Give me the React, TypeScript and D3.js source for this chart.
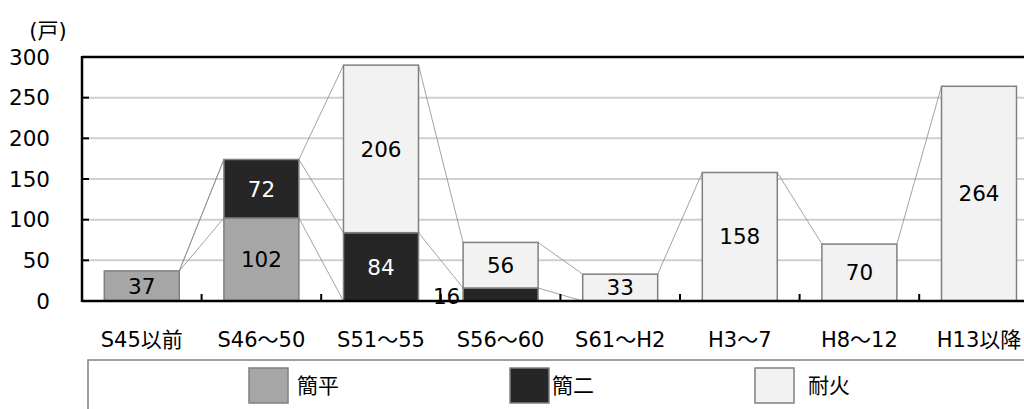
import { useEffect, useRef } from "react";
import * as d3 from "d3";

// Données
const categories = ["S45以前", "S46～50", "S51～55", "S56～60", "S61～H2", "H3～7", "H8～12", "H13以降"];
const kanpei = [37, 102, 0, 0, 0, 0, 0, 0];
const kanni = [0, 72, 84, 16, 0, 0, 0, 0];
const taika = [0, 0, 206, 56, 33, 158, 70, 264];
const seriesNames = ["簡平", "簡二", "耐火"];
const yTicks = [0, 50, 100, 150, 200, 250, 300];

const FONT = "'DejaVu Sans', 'Noto Sans CJK JP', sans-serif";
const colors = ["#a6a6a6", "#262626", "#f2f2f2"];
const textColors = ["#000", "#fff", "#000"];

export default function App() {
  const svgRef = useRef<SVGSVGElement>(null);

  useEffect(() => {
    if (!svgRef.current) return;
    const svg = d3.select(svgRef.current);
    svg.selectAll("*").remove();

    const width = 1024;
    const height = 409;
    const left = 82;
    const top = 57;
    const bottom = 301;
    const step = 119.6;

    svg.attr("width", width).attr("height", height);

    const x = d3
      .scaleBand<string>()
      .domain(categories)
      .range([left, left + step * categories.length])
      .paddingInner(0.373)
      .paddingOuter(0.1865);

    const y = d3.scaleLinear().domain([0, 300]).range([bottom, top]);

    const rows = categories.map((c, i) => ({
      cat: c,
      簡平: kanpei[i],
      簡二: kanni[i],
      耐火: taika[i]
    }));
    const stack = d3.stack<any>().keys(seriesNames)(rows);

    // Grille
    svg
      .append("g")
      .selectAll("line")
      .data(yTicks.filter((t) => t > 0 && t < 300))
      .enter()
      .append("line")
      .attr("x1", left)
      .attr("x2", width)
      .attr("y1", (d) => y(d))
      .attr("y2", (d) => y(d))
      .attr("stroke", "#cfcfcf")
      .attr("stroke-width", 2);

    // Lignes de série
    const bw = x.bandwidth();
    stack.forEach((s) => {
      for (let i = 0; i < s.length - 1; i++) {
        const x1 = (x(categories[i]) as number) + bw;
        const x2 = x(categories[i + 1]) as number;
        svg
          .append("line")
          .attr("x1", x1)
          .attr("x2", x2)
          .attr("y1", y(s[i][1]))
          .attr("y2", y(s[i + 1][1]))
          .attr("stroke", "#8c8c8c")
          .attr("stroke-width", 0.8);
      }
    });

    // Barres
    stack.forEach((s, si) => {
      svg
        .append("g")
        .selectAll("rect")
        .data(s.filter((d) => d[1] - d[0] > 0))
        .enter()
        .append("rect")
        .attr("x", (d) => x(d.data.cat) as number)
        .attr("width", bw)
        .attr("y", (d) => y(d[1]))
        .attr("height", (d) => y(d[0]) - y(d[1]))
        .attr("fill", colors[si])
        .attr("stroke", "#808080")
        .attr("stroke-width", 1.5);
    });

    // Étiquettes
    stack.forEach((s, si) => {
      s.forEach((d) => {
        const v = d[1] - d[0];
        if (v <= 0) return;
        let cx = (x(d.data.cat) as number) + bw / 2;
        let cy = (y(d[0]) + y(d[1])) / 2;
        let fill = textColors[si];
        // petite valeur : étiquette déplacée à gauche
        if (v < 20 && si === 1) {
          cx -= 54;
          cy += 2;
          fill = "#000";
        }
        svg
          .append("text")
          .attr("x", cx)
          .attr("y", cy)
          .attr("dy", "0.36em")
          .attr("text-anchor", "middle")
          .style("font-family", FONT)
          .style("font-size", "21.5px")
          .style("fill", fill)
          .text(v);
      });
    });

    // Axes et cadre
    svg
      .append("line")
      .attr("x1", left)
      .attr("x2", width)
      .attr("y1", top)
      .attr("y2", top)
      .attr("stroke", "#000")
      .attr("stroke-width", 2.5);
    svg
      .append("line")
      .attr("x1", left)
      .attr("x2", width)
      .attr("y1", bottom)
      .attr("y2", bottom)
      .attr("stroke", "#000")
      .attr("stroke-width", 2.5);
    svg
      .append("line")
      .attr("x1", left)
      .attr("x2", left)
      .attr("y1", top - 1)
      .attr("y2", bottom + 1)
      .attr("stroke", "#000")
      .attr("stroke-width", 2.5);

    // Graduations Y
    const yg = svg.append("g");
    yTicks.forEach((t) => {
      yg.append("line")
        .attr("x1", left)
        .attr("x2", left + 7)
        .attr("y1", y(t))
        .attr("y2", y(t))
        .attr("stroke", "#000")
        .attr("stroke-width", 2);
      yg.append("text")
        .attr("x", 50)
        .attr("y", y(t))
        .attr("dy", "0.36em")
        .attr("text-anchor", "end")
        .style("font-family", FONT)
        .style("font-size", "21.5px")
        .style("fill", "#000")
        .text(t);
    });

    // Graduations X
    categories.slice(1).forEach((c) => {
      const bx = (x(c) as number) - (x.step() - bw) / 2;
      svg
        .append("line")
        .attr("x1", bx)
        .attr("x2", bx)
        .attr("y1", bottom)
        .attr("y2", bottom - 7)
        .attr("stroke", "#000")
        .attr("stroke-width", 2);
    });

    // Libellés X
    svg
      .append("g")
      .selectAll("text")
      .data(categories)
      .enter()
      .append("text")
      .attr("x", (d) => (x(d) as number) + bw / 2)
      .attr("y", 339)
      .attr("dy", "0.36em")
      .attr("text-anchor", "middle")
      .style("font-family", FONT)
      .style("font-size", "21px")
      .style("fill", "#000")
      .text((d) => d);

    // Unité
    svg
      .append("text")
      .attr("x", 48)
      .attr("y", 30)
      .attr("dy", "0.36em")
      .attr("text-anchor", "middle")
      .style("font-family", FONT)
      .style("font-size", "21px")
      .style("fill", "#000")
      .text("(戸)");

    // Légende
    svg
      .append("rect")
      .attr("x", 88)
      .attr("y", 360)
      .attr("width", 1000)
      .attr("height", 100)
      .attr("fill", "#fff")
      .attr("stroke", "#808080")
      .attr("stroke-width", 1.5);

    const legendX = [249, 510, 755];
    const legendTextX = [297, 552, 808];
    seriesNames.forEach((name, i) => {
      svg
        .append("rect")
        .attr("x", legendX[i])
        .attr("y", 368)
        .attr("width", 39)
        .attr("height", 35)
        .attr("fill", colors[i])
        .attr("stroke", "#808080")
        .attr("stroke-width", 1.5);
      svg
        .append("text")
        .attr("x", legendTextX[i])
        .attr("y", 385)
        .attr("dy", "0.36em")
        .style("font-family", FONT)
        .style("font-size", "21px")
        .style("fill", "#000")
        .text(name);
    });
  }, []);

  return <svg ref={svgRef} style={{ position: "absolute", left: 0, top: 0 }} />;
}
